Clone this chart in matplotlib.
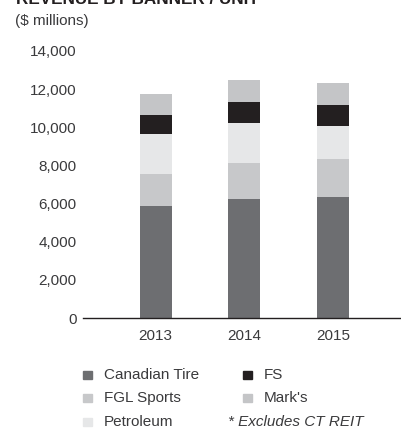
import matplotlib.pyplot as plt
import numpy as np

plt.rcParams['font.family'] = ['Liberation Sans', 'DejaVu Sans']

# ---------------------------------------------
# Data ($ millions)
# ---------------------------------------------
years = ["2013", "2014", "2015"]
canadian_tire = [5880, 6246, 6351]
fgl_sports = [1675, 1885, 1989]
petroleum = [2094, 2094, 1728]
fs = [990, 1100, 1100]
marks = [1104, 1151, 1151]

series_names = ["Canadian Tire", "FGL Sports", "Petroleum", "FS", "Mark's"]
series_colors = ["#6d6e71", "#c7c8ca", "#e6e7e8", "#231f20", "#c4c5c7"]
yticks = [0, 2000, 4000, 6000, 8000, 10000, 12000, 14000]

text_color = "#3a3a3c"
fs_text = 11

# ---------------------------------------------
# Figure
# ---------------------------------------------
W, H = 401, 429
fig = plt.figure(figsize=(W / 100, H / 100), dpi=100)

ax_left, ax_right = 83, 401
ax_bottom, ax_top = 318, 51
ax = fig.add_axes([ax_left / W, 1 - ax_bottom / H,
                   (ax_right - ax_left) / W, (ax_bottom - ax_top) / H])

x = np.arange(len(years))
bottom = np.zeros(len(years))
for vals, col in zip([canadian_tire, fgl_sports, petroleum, fs, marks], series_colors):
    ax.bar(x, vals, width=0.36, bottom=bottom, color=col, linewidth=0)
    bottom += np.array(vals)

ax.set_ylim(0, 14000)
ax.set_xlim(-0.82, 2.77)
ax.set_yticks(yticks)
ax.set_yticklabels([f"{v:,}" for v in yticks], fontsize=fs_text, color=text_color)
ax.set_xticks(x)
ax.set_xticklabels(years, fontsize=fs_text, color=text_color)
ax.tick_params(axis='y', length=0, pad=4.5)
ax.tick_params(axis='x', length=0, pad=8)
for side in ["top", "right", "left"]:
    ax.spines[side].set_visible(False)
ax.spines["bottom"].set_color("#231f20")
ax.spines["bottom"].set_linewidth(1.0)

# ---------------------------------------------
# Title (cut off at the top in the original)
# ---------------------------------------------
fig.text(16 / W, 1 - 4 / H, "REVENUE BY BANNER / UNIT", fontsize=12.3,
         fontweight='bold', color="#231f20", ha='left', va='baseline')
fig.text(15 / W, 1 - 25.5 / H, "($ millions)", fontsize=fs_text,
         color=text_color, ha='left', va='baseline')

# ---------------------------------------------
# Legend (hand placed)
# ---------------------------------------------
legend_pos = [(83, 375), (83, 398), (83, 422), (243, 375), (243, 398)]
for name, col, (px, py) in zip(series_names, series_colors, legend_pos):
    fig.patches.append(plt.Rectangle((px / W, 1 - (py + 4) / H), 9 / W, 8 / H,
                                     transform=fig.transFigure, color=col,
                                     figure=fig))
    fig.text((px + 21) / W, 1 - py / H, name, fontsize=fs_text, color=text_color,
             ha='left', va='center')

fig.text(228 / W, 1 - 422 / H, "* Excludes CT REIT", fontsize=fs_text,
         style='italic', color=text_color, ha='left', va='center')

fig.savefig("out.png", dpi=100)
